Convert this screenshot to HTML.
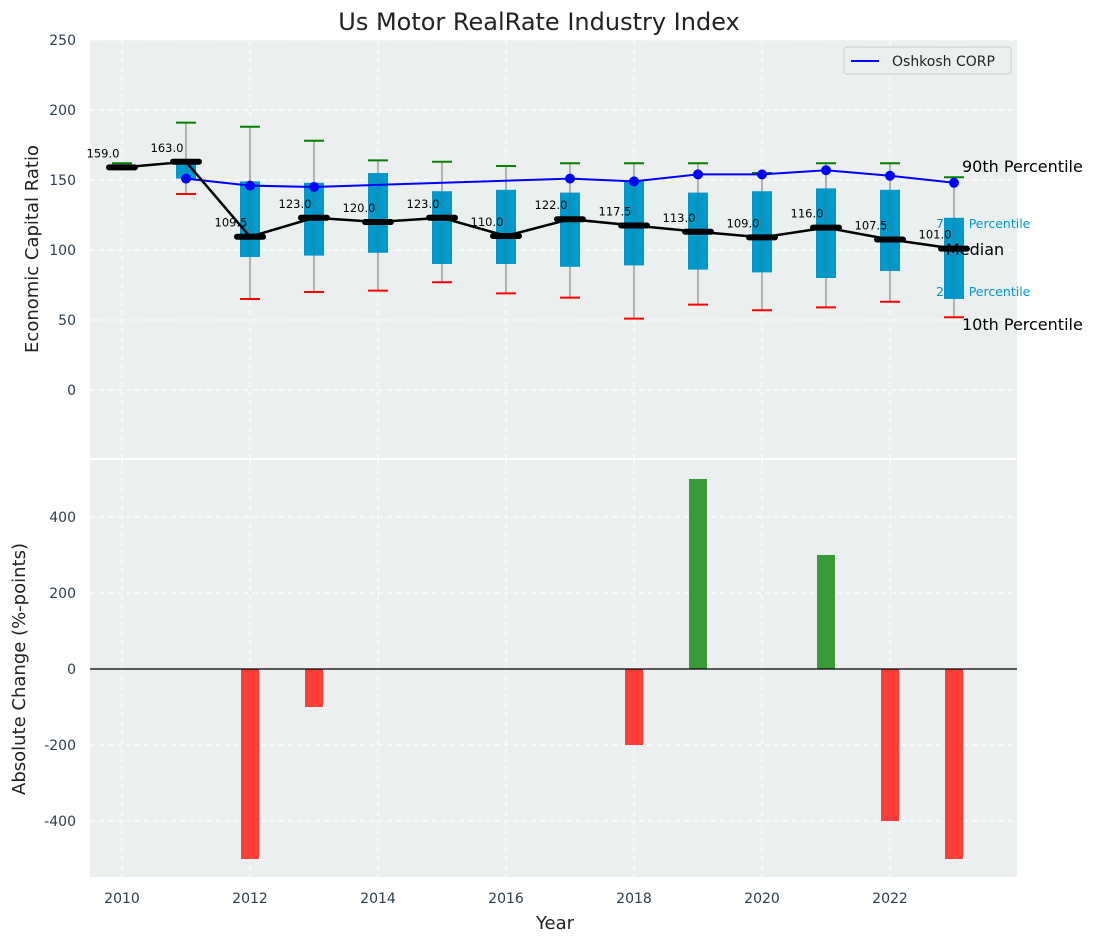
<!DOCTYPE html>
<html><head><meta charset="utf-8"><style>
body{margin:0;background:#fff;font-family:"DejaVu Sans","Liberation Sans",sans-serif}
svg text{font-family:"DejaVu Sans","Liberation Sans",sans-serif}
</style></head><body>
<svg id="c" width="1097" height="942" xmlns="http://www.w3.org/2000/svg"></svg>
<script>
const years=[2010,2011,2012,2013,2014,2015,2016,2017,2018,2019,2020,2021,2022,2023];
const medians=[159,163,109.5,123,120,123,110,122,117.5,113,109,116,107.5,101];
const q1=[158,151,95,96,98,90,90,88,89,86,84,80,85,65];
const q3=[160,163,149,148,155,142,143,141,149,141,142,144,143,123];
const p10=[158,140,65,70,71,77,69,66,51,61,57,59,63,52];
const p90=[162,191,188,178,164,163,160,162,162,162,155,162,162,152];
const oshYears=[2011,2012,2013,2017,2018,2019,2020,2021,2022,2023];
const oshVals=[151,146,145,151,149,154,154,157,153,148];
const changes=[0,0,-500,-100,0,0,0,0,-200,500,0,300,-400,-500];
const yTicksTop=[0,50,100,150,200,250];
const yTicksBot=[-400,-200,0,200,400];
const xTicks=[2010,2012,2014,2016,2018,2020,2022];

const NS="http://www.w3.org/2000/svg";
const svg=document.getElementById('c');
function el(tag,attrs,text){const e=document.createElementNS(NS,tag);for(const k in attrs)e.setAttribute(k,attrs[k]);if(text!==undefined)e.textContent=text;svg.appendChild(e);return e;}
const L=90,R=1017;
const x=v=>122+(v-2010)*64;
const yT=v=>390-v*1.4;
const yB=v=>669-v*0.38;
const TT=40,TB=458,BT=460,BB=877;

let t=el('text',{x:539,y:30,'text-anchor':'middle','font-size':24,fill:'#222'},'Us Motor RealRate Industry Index');

let r=el('rect',{x:L,y:TT,width:R-L,height:TB-TT,fill:'#eceff0'});

r=el('rect',{x:L,y:BT,width:R-L,height:BB-BT,fill:'#eceff0'});

xTicks.forEach(v=>{
 el('line',{x1:x(v),x2:x(v),y1:TT,y2:TB,stroke:'#fff','stroke-dasharray':'5,4','stroke-width':1});
 el('line',{x1:x(v),x2:x(v),y1:BT,y2:BB,stroke:'#fff','stroke-dasharray':'5,4','stroke-width':1});
 let tx=el('text',{x:x(v),y:903,'text-anchor':'middle','font-size':14,fill:'#2d3e50'},v);
 
});
yTicksTop.forEach(v=>{
 el('line',{x1:L,x2:R,y1:yT(v),y2:yT(v),stroke:'#fff','stroke-dasharray':'5,4','stroke-width':1});
 let tx=el('text',{x:76,y:yT(v)+5,'text-anchor':'end','font-size':14,fill:'#2d3e50'},v);
 
});
yTicksBot.forEach(v=>{
 el('line',{x1:L,x2:R,y1:yB(v),y2:yB(v),stroke:'#fff','stroke-dasharray':'5,4','stroke-width':1});
 let tx=el('text',{x:76,y:yB(v)+5,'text-anchor':'end','font-size':14,fill:'#2d3e50'},v);
 
});
// cyan labels under boxes
[['75th Percentile',936,228],['25th Percentile',936,296]].forEach(a=>{
 let tx=el('text',{x:a[1],y:a[2],'font-size':12.5,fill:'#0099cc'},a[0]);
 
});
years.forEach((yr,i)=>{
 const cx=x(yr);
 let w=el('line',{x1:cx,x2:cx,y1:yT(p90[i]),y2:yT(p10[i]),stroke:'#888','stroke-width':1.2});
 
 let b=el('rect',{x:cx-10,y:yT(q3[i]),width:20,height:Math.max(1,yT(q1[i])-yT(q3[i])),fill:'#0099cc'});
 
 el('line',{x1:cx,x2:cx,y1:yT(q3[i]),y2:yT(q1[i]),stroke:'#666','stroke-width':1,opacity:0.6});
 let c1=el('line',{x1:cx-10,x2:cx+10,y1:yT(p90[i]),y2:yT(p90[i]),stroke:'green','stroke-width':2});
 
 let c2=el('line',{x1:cx-10,x2:cx+10,y1:yT(p10[i]),y2:yT(p10[i]),stroke:'red','stroke-width':2});
 
});
let p=el('polyline',{points:oshYears.map((yr,i)=>x(yr)+','+yT(oshVals[i])).join(' '),fill:'none',stroke:'blue','stroke-width':2});

oshYears.forEach((yr,i)=>{let c=el('circle',{cx:x(yr),cy:yT(oshVals[i]),r:5,fill:'blue'});
 });
p=el('polyline',{points:years.map((yr,i)=>x(yr)+','+yT(medians[i])).join(' '),fill:'none',stroke:'#000','stroke-width':2.5});

years.forEach((yr,i)=>{
 let m=el('line',{x1:x(yr)-13,x2:x(yr)+13,y1:yT(medians[i]),y2:yT(medians[i]),stroke:'#000','stroke-width':6,'stroke-linecap':'round'});
 
 let lb=el('text',{x:x(yr)-19,y:yT(medians[i])-10,'text-anchor':'middle','font-size':11.5,fill:'#000'},medians[i].toFixed(1));
 
});
[['90th Percentile',962,172],['Median',946,255],['10th Percentile',962,330]].forEach(a=>{
 let tx=el('text',{x:a[1],y:a[2],'font-size':16,fill:'#000'},a[0]);
 
});
let lg=el('rect',{x:844,y:47,width:167,height:27,rx:3,fill:'#eceff0',stroke:'#ccc'});

el('line',{x1:851,x2:879,y1:61,y2:61,stroke:'blue','stroke-width':2});
t=el('text',{x:892,y:66,'font-size':14,fill:'#222'},'Oshkosh CORP');

changes.forEach((v,i)=>{
 if(v===0)return;
 const y0=yB(0),y1=yB(v);
 let b=el('rect',{x:x(years[i])-9,y:Math.min(y0,y1),width:18,height:Math.abs(y1-y0),fill:v>0?'#3a9a3a':'#ff3c3c'});
 
});
el('line',{x1:L,x2:R,y1:yB(0),y2:yB(0),stroke:'#000','stroke-width':1.2});
t=el('text',{x:38,y:249,'text-anchor':'middle','font-size':18,fill:'#222',transform:'rotate(-90 38 249)'},'Economic Capital Ratio');

t=el('text',{x:25,y:669,'text-anchor':'middle','font-size':18,fill:'#222',transform:'rotate(-90 25 669)'},'Absolute Change (%-points)');

t=el('text',{x:555,y:929,'text-anchor':'middle','font-size':18,fill:'#222'},'Year');

</script>
</body></html>
